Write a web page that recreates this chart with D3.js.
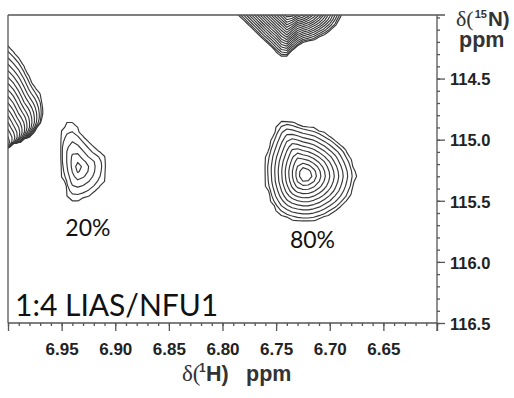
<!DOCTYPE html>
<html>
<head>
<meta charset="utf-8">
<script src="https://cdn.jsdelivr.net/npm/d3@7"></script>
<style>
  html, body { margin: 0; padding: 0; background: #fff; }
  svg { display: block; }
</style>
</head>
<body>
<script>
// 1H-15N HSQC window: amide cross-peaks of LIAS in the presence of NFU1 (1:4)

// spectral window (ppm)
const hDomain = [7.00, 6.60];
const nDomain = [113.98, 116.5];

// labelled ticks
const hTicks = [6.95, 6.90, 6.85, 6.80, 6.75, 6.70, 6.65];
const nTicks = [114.5, 115.0, 115.5, 116.0, 116.5];

// peak maxima [1H, 15N] and heights (in units of the lowest contour level)
const peakCentre = [[7.0047, 115.0766], [6.7352, 113.8573], [6.9347, 115.2320], [6.7231, 115.2893]];
const peakHeight = [86.5, 705.6, 3.34, 21.0];

// footprints of the lowest contour level, [1H, 15N] ppm, traced around each maximum
const footprintEdge = [
  [7.0000, 114.2255], [6.9953, 114.2664], [6.9888, 114.3319], [6.9823, 114.4301],
  [6.9767, 114.5365], [6.9702, 114.6183], [6.9669, 114.6920], [6.9660, 114.7820],
  [6.9674, 114.8393], [6.9730, 114.9211], [6.9823, 115.0029], [6.9916, 115.0438],
  [6.9981, 115.0643], [7.0028, 115.0889], [7.0121, 115.1011], [7.0354, 115.0848],
  [7.0401, 114.6756], [7.0308, 114.2664], [7.0121, 114.1682]
];
const footprintTop = [
  [6.7911, 113.8982], [6.7855, 113.9800], [6.7790, 114.0373], [6.7697, 114.1191],
  [6.7622, 114.1846], [6.7538, 114.2500], [6.7483, 114.3073], [6.7427, 114.3360],
  [6.7380, 114.3155], [6.7343, 114.2664], [6.7259, 114.2132], [6.7138, 114.1846],
  [6.7016, 114.1273], [6.6932, 114.0618], [6.6886, 113.9800], [6.6830, 113.8982],
  [6.6904, 113.7345], [6.7138, 113.6281], [6.7352, 113.5954], [6.7557, 113.6281],
  [6.7790, 113.7345]
];
const footprintMinor = [
  [6.9431, 114.8474], [6.9385, 114.8638], [6.9329, 114.9211], [6.9235, 115.0111],
  [6.9179, 115.0684], [6.9114, 115.1011], [6.9077, 115.1420], [6.9063, 115.1993],
  [6.9077, 115.3057], [6.9124, 115.3875], [6.9189, 115.4448], [6.9263, 115.4857],
  [6.9357, 115.5103], [6.9422, 115.5021], [6.9459, 115.4612], [6.9487, 115.3630],
  [6.9515, 115.2848], [6.9534, 115.1620], [6.9534, 115.0029], [6.9515, 114.9293],
  [6.9478, 114.8720]
];
const footprintMajor = [
  [6.7445, 114.8311], [6.7352, 114.8474], [6.7277, 114.8720], [6.7119, 114.9047],
  [6.6970, 114.9784], [6.6849, 115.0684], [6.6783, 115.1748], [6.6746, 115.2812],
  [6.6765, 115.3793], [6.6811, 115.4775], [6.6904, 115.5676], [6.7044, 115.6412],
  [6.7165, 115.6739], [6.7277, 115.6739], [6.7399, 115.6494], [6.7492, 115.6003],
  [6.7557, 115.5103], [6.7604, 115.3712], [6.7613, 115.2239], [6.7594, 115.1048],
  [6.7538, 114.9620], [6.7492, 114.8720]
];
const footprints = [footprintEdge, footprintTop, footprintMinor, footprintMajor];

// population labels of the two states
const stateLabels = ["20%", "80%"];
const sampleLabel = "1:4 LIAS/NFU1";

// contour levels: geometric series
const levelBase = 1;
const levelFactor = 1.3;
const levelCount = 32;

// digital resolution of the processed spectrum
const hStep = 0.005, nStep = 0.04;
const hGrid = [7.06, 6.55], nGrid = [113.50, 116.70];

const W = 514, H = 398;
const frame = { left: 8, top: 15, right: 437, bottom: 323 };

const svg = d3.select("body").append("svg")
  .attr("width", W).attr("height", H)
  .attr("viewBox", `0 0 ${W} ${H}`);

const x = d3.scaleLinear().domain(hDomain).range([frame.left, frame.right]);
const y = d3.scaleLinear().domain(nDomain).range([frame.top, frame.bottom]);

// ---- spectrum model ----
// each peak falls off log-linearly from its maximum to the footprint outline,
// and steeply beyond it
const peaks = peakCentre.map((c, k) => {
  const cx = x(c[0]), cy = y(c[1]);
  const pts = footprints[k].map(p => [x(p[0]) - cx, y(p[1]) - cy]);
  return { cx, cy, pts, logA: Math.log(peakHeight[k]) };
});

function footprintRatio(pk, dx, dy) {
  if (dx === 0 && dy === 0) return 0;
  const P = pk.pts, n = P.length;
  for (let i = 0; i < n; i++) {
    const a = P[i], b = P[(i + 1) % n];
    const ab = a[0] * b[1] - a[1] * b[0];
    if (ab === 0) continue;
    const alpha = (dx * b[1] - dy * b[0]) / ab;
    const beta = (a[0] * dy - a[1] * dx) / ab;
    if (alpha >= -1e-12 && beta >= -1e-12) return alpha + beta;
  }
  return Infinity;
}

const nx = Math.round((hGrid[0] - hGrid[1]) / hStep) + 1;
const ny = Math.round((nGrid[1] - nGrid[0]) / nStep) + 1;
const values = new Float64Array(nx * ny);
const tailSteepness = 14;
for (let j = 0; j < ny; j++) {
  const py = y(nGrid[0] + j * nStep);
  for (let i = 0; i < nx; i++) {
    const px = x(hGrid[0] - i * hStep);
    let s = 0;
    for (const pk of peaks) {
      const r = footprintRatio(pk, px - pk.cx, py - pk.cy);
      const lnI = r <= 1 ? pk.logA * (1 - r) : -tailSteepness * (r - 1);
      s += Math.exp(lnI);
    }
    values[j * nx + i] = Math.log(s + 1e-12);
  }
}

const thresholds = d3.range(levelCount).map(k => Math.log(levelBase) + k * Math.log(levelFactor));
const contours = d3.contours().size([nx, ny]).thresholds(thresholds)(values);

const toPlot = d3.geoTransform({
  point(gx, gy) {
    this.stream.point(x(hGrid[0] - (gx - 0.5) * hStep), y(nGrid[0] + (gy - 0.5) * nStep));
  }
});
const path = d3.geoPath(toPlot);

svg.append("clipPath").attr("id", "plot-area")
  .append("rect")
  .attr("x", frame.left).attr("y", frame.top)
  .attr("width", frame.right - frame.left).attr("height", frame.bottom - frame.top);

svg.append("g").attr("clip-path", "url(#plot-area)")
  .selectAll("path").data(contours).join("path")
  .attr("d", path)
  .attr("fill", "none")
  .attr("stroke", "#383838")
  .attr("stroke-width", 1.15)
  .attr("stroke-linejoin", "round");

// ---- frame ----
const frameColor = "#555";
const fg = svg.append("g").attr("stroke", frameColor).attr("stroke-width", 1.3).attr("fill", "none");
fg.append("line").attr("x1", frame.left).attr("x2", frame.left).attr("y1", frame.top).attr("y2", frame.bottom);
fg.append("line").attr("x1", frame.left).attr("x2", frame.right + 8).attr("y1", frame.top).attr("y2", frame.top);

// ---- 1H axis (bottom) ----
const hMinor = d3.range(0, 41).map(i => +(hDomain[0] - i * 0.01).toFixed(2));
const hMajor = [hDomain[0], ...hTicks, hDomain[1]];
const tickFont = "'Liberation Sans', Arial, sans-serif";

const xMinorAxis = svg.append("g").attr("transform", `translate(0,${frame.bottom})`)
  .call(d3.axisBottom(x).tickValues(hMinor).tickSize(3).tickFormat(""));
const xAxis = svg.append("g").attr("transform", `translate(0,${frame.bottom})`)
  .call(d3.axisBottom(x).tickValues(hMajor).tickSize(8)
    .tickFormat(d => hTicks.includes(d) ? d3.format(".2f")(d) : ""));

// ---- 15N axis (right) ----
const nMinor = d3.range(0, 26).map(i => +(114.0 + i * 0.1).toFixed(1)).filter(d => d >= nDomain[0] && d <= nDomain[1]);
const yMinorAxis = svg.append("g").attr("transform", `translate(${frame.right},0)`)
  .call(d3.axisRight(y).tickValues(nMinor).tickSize(3).tickFormat(""));
const yAxis = svg.append("g").attr("transform", `translate(${frame.right},0)`)
  .call(d3.axisRight(y).tickValues(nTicks).tickSize(8).tickFormat(d3.format(".1f")));

[xMinorAxis, xAxis, yMinorAxis, yAxis].forEach(g => {
  g.select(".domain").remove();
  g.selectAll("line").attr("stroke", frameColor).attr("stroke-width", 1.3);
});

// axis lines with their corner extensions
fg.append("line").attr("x1", frame.left).attr("x2", frame.right).attr("y1", frame.bottom).attr("y2", frame.bottom);
fg.append("line").attr("x1", frame.right).attr("x2", frame.right).attr("y1", frame.top).attr("y2", frame.bottom + 8);
fg.raise();

xAxis.selectAll("text")
  .attr("y", 20).attr("dy", "0.71em")
  .attr("font-family", tickFont).attr("font-weight", "bold")
  .attr("font-size", 17).attr("fill", "#222");
yAxis.selectAll("text")
  .attr("x", 13).attr("dy", "0.38em")
  .attr("font-family", tickFont).attr("font-weight", "bold")
  .attr("font-size", 16.5).attr("fill", "#222");

// ---- axis titles ----
const serif = "'Liberation Serif', 'DejaVu Serif', serif";
const titleColor = "#333";
const xt = svg.append("text")
  .attr("y", 381)
  .attr("fill", titleColor).attr("font-family", tickFont).attr("font-weight", "bold").attr("font-size", 21.5);
xt.append("tspan").attr("x", 182).attr("font-family", serif).attr("font-weight", "normal").attr("font-size", 23).text("δ(");
xt.append("tspan").attr("x", 199).attr("font-size", 12).attr("dy", -9).text("1");
xt.append("tspan").attr("x", 206).attr("dy", 9).text("H)");
xt.append("tspan").attr("x", 246).text("ppm");

const yt = svg.append("text")
  .attr("x", 456).attr("y", 26)
  .attr("fill", titleColor).attr("font-family", tickFont).attr("font-weight", "bold").attr("font-size", 20.5);
yt.append("tspan").attr("font-family", serif).attr("font-weight", "normal").attr("font-size", 22).text("δ(");
yt.append("tspan").attr("font-size", 11).attr("dx", 1).attr("dy", -8).text("15");
yt.append("tspan").attr("dx", 1).attr("dy", 8).text("N)");
svg.append("text")
  .attr("x", 459).attr("y", 47)
  .attr("fill", titleColor).attr("font-family", tickFont).attr("font-weight", "bold").attr("font-size", 21.5)
  .text("ppm");

// ---- annotations ----
const annoFont = "Lato, 'Open Sans', sans-serif";
const labelAt = [[6.9255, 115.789], [6.7161, 115.887]];
svg.selectAll("text.state").data(stateLabels).join("text")
  .attr("class", "state")
  .attr("x", (d, i) => x(labelAt[i][0]))
  .attr("y", (d, i) => y(labelAt[i][1]))
  .attr("text-anchor", "middle")
  .attr("font-family", annoFont).attr("font-size", 23).attr("fill", "#111")
  .text(d => d);

svg.append("text")
  .attr("x", 15).attr("y", 316)
  .attr("font-family", annoFont).attr("font-size", 30).attr("fill", "#111")
  .text(sampleLabel);
</script>
</body>
</html>
